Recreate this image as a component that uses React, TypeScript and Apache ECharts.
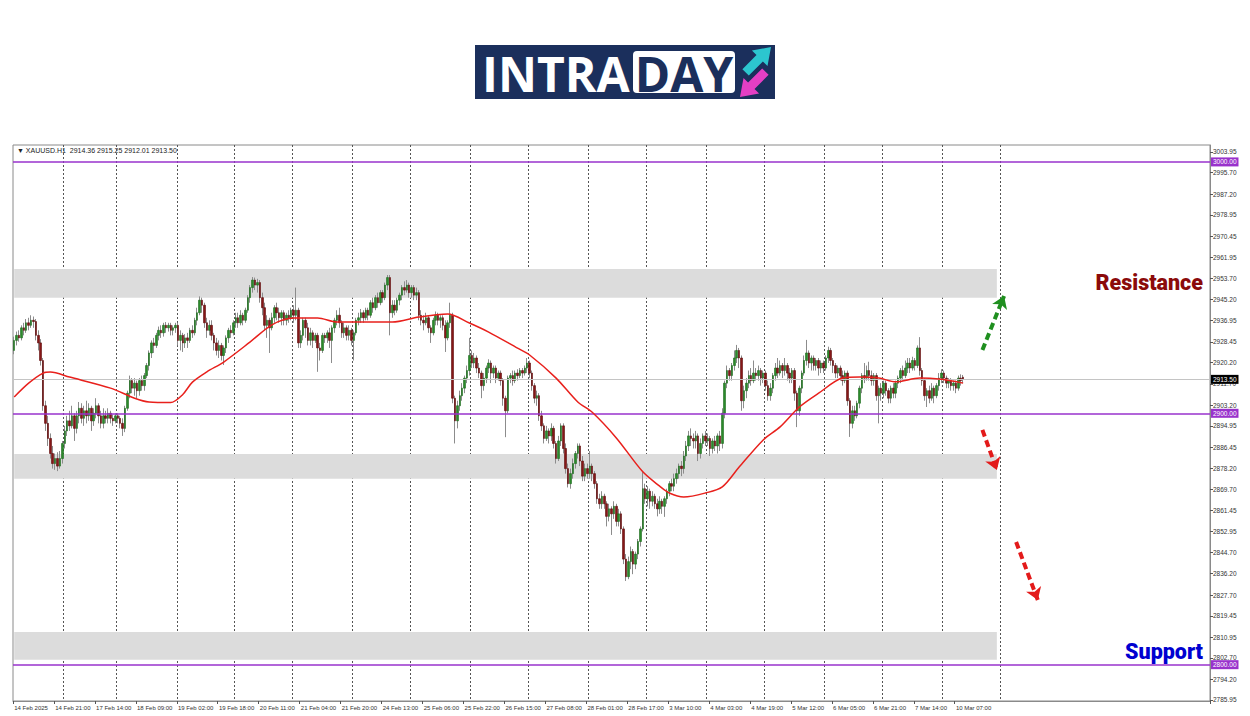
import React, { useEffect, useRef } from "react";
import * as echarts from "echarts";

// [open, close, low, high]
const CANDLES: number[][] = [
  [2925, 2929, 2923.5, 2930.5], [2929, 2931, 2927, 2932.5], [2931, 2930, 2928.5, 2933], [2930, 2934, 2929, 2935],
  [2934, 2933, 2931, 2936], [2933, 2936, 2932, 2937.5], [2936, 2935, 2933, 2938], [2935, 2937, 2934, 2939],
  [2937, 2936.5, 2934, 2938.5], [2936.5, 2931, 2929, 2937.5], [2931, 2928, 2925, 2933], [2928, 2921, 2919, 2929.5],
  [2921, 2903, 2901, 2922], [2903, 2896, 2893, 2905], [2896, 2890, 2887, 2899], [2890, 2884, 2882, 2892],
  [2884, 2880, 2878, 2887], [2880, 2882, 2877.5, 2884], [2882, 2879, 2877, 2884.5], [2879, 2882, 2878, 2885],
  [2882, 2888, 2880, 2889], [2888, 2893, 2886, 2895], [2893, 2897, 2891, 2899], [2897, 2895, 2893, 2901],
  [2895, 2899, 2894, 2903], [2899, 2894, 2889, 2900], [2894, 2899, 2892, 2901], [2899, 2902, 2896, 2904.5],
  [2902, 2898, 2896, 2904], [2898, 2901, 2895, 2903], [2901, 2899, 2896, 2905], [2899, 2902, 2897, 2904],
  [2902, 2897, 2893, 2903], [2897, 2900, 2895, 2902], [2900, 2903, 2898, 2906], [2903, 2899, 2896, 2904],
  [2899, 2896, 2894, 2901], [2896, 2899, 2894, 2902], [2899, 2898, 2896, 2901], [2898, 2900, 2896, 2902],
  [2900, 2898, 2896, 2901], [2898, 2897, 2895, 2899.5], [2897, 2899, 2896, 2900], [2899, 2898, 2896, 2900],
  [2898, 2896, 2894, 2899], [2896, 2894, 2891, 2898], [2894, 2902, 2892.5, 2903], [2902, 2908, 2901, 2909],
  [2908, 2913, 2906, 2915], [2913, 2910, 2908, 2914], [2910, 2912, 2907, 2914], [2912, 2909, 2906, 2913],
  [2909, 2913, 2907, 2914], [2913, 2911, 2909, 2915], [2911, 2915, 2909, 2916], [2915, 2919, 2914, 2920],
  [2919, 2924, 2917, 2925], [2924, 2928, 2922, 2929], [2928, 2927, 2924, 2930], [2927, 2931, 2926, 2932],
  [2931, 2933, 2929, 2934.5], [2933, 2932, 2930, 2935], [2932, 2935, 2930.5, 2936], [2935, 2934, 2932, 2936.3],
  [2934, 2935, 2932.5, 2936], [2935, 2933, 2931, 2936], [2933, 2934, 2931, 2935], [2934, 2935, 2932, 2936],
  [2935, 2929, 2927, 2936], [2929, 2931, 2925, 2933], [2931, 2928, 2924.4, 2932], [2928, 2930, 2926, 2931.5],
  [2930, 2929, 2926, 2932], [2929, 2933, 2928, 2934], [2933, 2932, 2930, 2935], [2932, 2937, 2931, 2938],
  [2937, 2940, 2935, 2942], [2940, 2945, 2939, 2946.5], [2945, 2943, 2940, 2946], [2943, 2936, 2934, 2944],
  [2936, 2933, 2930, 2938], [2933, 2935, 2931, 2937], [2935, 2931, 2929, 2937], [2931, 2928, 2925, 2932],
  [2928, 2925, 2923, 2930], [2925, 2927, 2922, 2929], [2927, 2923, 2921, 2928], [2923, 2926, 2919.2, 2927],
  [2926, 2930, 2924, 2931], [2930, 2933, 2928, 2934], [2933, 2932, 2930, 2935], [2932, 2936, 2931, 2937],
  [2936, 2938, 2934, 2940], [2938, 2936, 2934, 2940], [2936, 2939, 2935, 2941], [2939, 2937, 2935, 2940],
  [2937, 2941, 2936, 2942], [2941, 2946, 2940, 2947], [2946, 2950, 2944, 2951], [2950, 2953, 2948, 2954.2],
  [2953, 2951, 2949, 2954], [2951, 2952, 2948, 2953.5], [2952, 2946, 2944, 2953], [2946, 2942, 2939, 2948],
  [2942, 2935, 2933, 2944], [2935, 2937, 2930, 2939], [2937, 2934, 2924, 2938], [2934, 2938, 2933, 2940],
  [2938, 2942, 2936, 2943], [2942, 2940, 2937, 2944], [2940, 2938, 2936, 2942], [2938, 2940, 2935, 2941],
  [2940, 2937, 2935, 2941], [2937, 2939, 2935, 2940], [2939, 2938, 2936, 2941], [2938, 2941, 2937, 2942],
  [2941, 2939, 2936, 2943], [2939, 2941, 2937, 2950], [2941, 2928, 2926, 2942], [2928, 2931, 2926, 2933],
  [2931, 2937, 2929, 2938], [2937, 2934, 2930, 2938], [2934, 2929, 2927, 2936], [2929, 2932, 2927, 2934],
  [2932, 2929, 2926, 2933], [2929, 2931, 2928, 2932], [2931, 2926, 2916.5, 2932], [2926, 2925, 2921, 2928],
  [2925, 2931, 2924, 2932], [2931, 2930, 2928, 2932], [2930, 2932, 2928, 2933], [2932, 2929, 2926, 2934],
  [2929, 2934, 2920, 2935], [2934, 2937, 2932, 2938], [2937, 2939, 2935, 2941], [2939, 2936, 2934, 2942],
  [2936, 2932, 2930, 2937], [2932, 2934, 2930, 2936], [2934, 2931, 2929, 2935], [2931, 2933, 2929, 2935],
  [2933, 2929, 2927, 2934], [2929, 2932, 2921, 2933], [2932, 2937, 2931, 2938], [2937, 2938, 2935, 2940],
  [2938, 2940, 2936, 2941.5], [2940, 2938, 2936, 2941], [2938, 2941, 2937, 2942], [2941, 2939, 2937, 2942],
  [2939, 2944, 2938, 2945], [2944, 2942, 2940, 2946], [2942, 2946, 2941, 2947], [2946, 2944, 2942, 2948],
  [2944, 2948, 2943, 2949], [2948, 2946, 2944, 2949], [2946, 2951, 2945, 2952], [2951, 2954, 2949, 2955],
  [2954, 2940, 2931, 2955], [2940, 2943, 2938, 2945], [2943, 2941, 2939, 2945], [2941, 2945, 2940, 2946],
  [2945, 2947, 2943, 2948], [2947, 2950, 2945, 2951], [2950, 2949, 2947, 2952.5], [2949, 2951, 2948, 2953],
  [2951, 2948, 2946, 2952], [2948, 2950, 2946, 2951], [2950, 2947, 2945, 2951], [2947, 2948, 2945, 2950],
  [2948, 2939, 2937, 2949], [2939, 2937, 2935, 2941], [2937, 2936, 2933, 2939], [2936, 2938, 2935, 2940],
  [2938, 2934, 2932, 2939], [2934, 2932, 2928, 2935], [2932, 2937, 2931, 2938], [2937, 2939, 2935, 2940.5],
  [2939, 2937, 2935, 2940], [2937, 2938, 2934, 2939], [2938, 2935, 2933, 2939], [2935, 2930, 2924.4, 2937],
  [2930, 2936, 2929, 2937], [2936, 2939, 2934, 2944], [2939, 2906, 2904, 2940], [2906, 2897, 2888, 2907],
  [2897, 2903, 2894, 2905], [2903, 2907, 2901, 2909], [2907, 2910, 2905, 2912], [2910, 2914, 2908, 2915],
  [2914, 2917, 2912, 2919], [2917, 2923, 2915, 2930], [2923, 2920, 2918, 2925], [2920, 2922, 2918, 2924],
  [2922, 2918, 2916, 2923], [2918, 2916, 2914, 2920], [2916, 2911, 2906, 2917], [2911, 2914, 2909, 2916],
  [2914, 2918, 2912, 2919], [2918, 2920, 2916, 2921.5], [2920, 2916, 2912, 2921], [2916, 2918, 2914, 2919],
  [2918, 2914, 2912, 2919], [2914, 2916, 2913, 2917], [2916, 2913, 2911, 2917], [2913, 2906, 2903, 2914],
  [2906, 2901, 2890.5, 2907], [2901, 2914, 2900, 2915], [2914, 2915, 2912, 2916], [2915, 2913, 2911, 2917],
  [2913, 2916, 2912, 2917], [2916, 2915, 2913, 2917.5], [2915, 2917, 2914, 2918], [2917, 2916, 2914, 2918],
  [2916, 2918, 2915, 2919], [2918, 2920, 2916, 2922], [2920, 2916, 2914, 2921], [2916, 2911, 2909, 2917],
  [2911, 2906, 2904, 2912], [2906, 2907, 2903, 2909], [2907, 2899, 2897, 2908], [2899, 2895, 2893, 2901],
  [2895, 2890, 2888, 2896], [2890, 2893, 2889, 2895], [2893, 2891, 2888, 2894], [2891, 2894, 2889, 2896],
  [2894, 2888, 2886, 2895], [2888, 2882, 2880, 2889], [2882, 2889, 2881, 2891], [2889, 2895, 2887, 2896],
  [2895, 2886, 2884, 2896], [2886, 2878, 2876, 2888], [2878, 2872, 2870.5, 2880], [2872, 2876, 2870, 2878],
  [2876, 2880, 2874, 2882], [2880, 2884, 2878, 2885], [2884, 2887, 2882, 2888], [2887, 2881, 2879, 2888],
  [2881, 2875, 2873, 2883], [2875, 2878, 2873, 2880], [2878, 2876, 2874, 2880], [2876, 2879, 2874, 2885],
  [2879, 2876, 2873, 2880], [2876, 2872, 2870, 2877], [2872, 2866, 2864, 2873], [2866, 2864, 2862, 2868],
  [2864, 2867, 2862, 2869], [2867, 2864, 2862, 2868], [2864, 2859, 2855, 2865], [2859, 2862, 2857, 2864],
  [2862, 2860, 2851.6, 2863], [2860, 2863, 2858, 2865], [2863, 2857, 2855, 2864], [2857, 2860, 2855, 2862],
  [2860, 2854, 2852, 2861], [2854, 2842, 2840, 2855], [2842, 2835, 2833.3, 2844], [2835, 2841, 2834, 2843],
  [2841, 2845, 2838, 2847], [2845, 2840, 2836, 2846], [2840, 2844, 2838, 2845], [2844, 2849, 2842, 2850],
  [2849, 2854, 2847, 2855], [2854, 2870, 2853, 2876.6], [2870, 2866, 2864, 2872], [2866, 2869, 2863, 2871],
  [2869, 2865, 2862, 2870], [2865, 2867, 2863, 2869], [2867, 2864, 2862, 2868], [2864, 2862, 2859, 2866],
  [2862, 2865, 2860, 2867], [2865, 2863, 2860, 2866], [2863, 2866, 2858.8, 2867], [2866, 2869, 2864, 2870],
  [2869, 2872, 2867, 2873], [2872, 2871, 2869, 2874], [2871, 2874, 2869, 2876], [2874, 2876, 2872, 2878],
  [2876, 2879, 2874, 2880], [2879, 2878, 2875, 2881], [2878, 2883, 2876, 2885], [2883, 2887, 2881, 2889],
  [2887, 2891, 2885, 2893], [2891, 2890, 2887, 2894], [2890, 2889, 2886, 2892], [2889, 2891, 2886, 2893],
  [2891, 2884, 2881, 2892], [2884, 2888, 2882, 2890], [2888, 2891, 2886, 2892], [2891, 2889, 2887, 2893],
  [2889, 2890, 2887, 2892], [2890, 2886, 2883, 2891], [2886, 2889, 2884, 2890], [2889, 2887, 2885, 2891],
  [2887, 2891, 2884, 2892], [2891, 2888, 2885, 2893], [2888, 2900, 2886, 2902], [2900, 2912, 2898, 2913],
  [2912, 2917, 2910, 2919], [2917, 2915, 2913, 2918], [2915, 2919, 2913, 2920], [2919, 2922, 2917, 2925],
  [2922, 2925, 2920, 2927.2], [2925, 2922, 2918, 2926], [2922, 2905, 2901, 2923], [2905, 2909, 2902, 2911],
  [2909, 2912, 2906, 2914], [2912, 2915, 2910, 2917], [2915, 2913, 2911, 2918], [2913, 2916, 2912, 2921],
  [2916, 2915, 2913, 2918], [2915, 2917, 2913, 2919], [2917, 2914, 2911, 2918], [2914, 2916, 2912, 2917],
  [2916, 2911, 2909, 2917], [2911, 2907, 2905, 2913], [2907, 2910, 2905, 2912], [2910, 2915, 2908, 2916],
  [2915, 2918, 2913, 2920], [2918, 2916, 2914, 2922], [2916, 2919, 2915, 2921], [2919, 2917, 2914, 2920],
  [2917, 2919, 2915, 2922], [2919, 2916, 2913, 2920], [2916, 2914, 2912, 2918], [2914, 2917, 2912, 2918],
  [2917, 2908, 2905, 2918], [2908, 2901, 2894.5, 2909], [2901, 2910, 2899, 2911], [2910, 2916, 2908, 2917],
  [2916, 2921, 2915, 2923], [2921, 2924, 2919, 2929.2], [2924, 2920, 2918, 2925], [2920, 2922, 2917, 2923],
  [2922, 2919, 2917, 2923], [2919, 2921, 2917, 2922], [2921, 2918, 2915, 2922], [2918, 2920, 2916, 2921],
  [2920, 2918, 2916, 2921], [2918, 2922, 2917, 2923], [2922, 2925, 2920, 2926.5], [2925, 2921, 2919, 2926],
  [2921, 2919, 2916, 2922], [2919, 2916, 2914, 2920], [2916, 2918, 2914, 2919], [2918, 2915, 2913, 2919],
  [2915, 2913, 2911, 2917], [2913, 2916, 2912, 2917], [2916, 2905, 2903, 2917], [2905, 2896, 2890.6, 2906],
  [2896, 2901, 2894, 2903], [2901, 2899, 2897, 2903], [2899, 2904, 2898, 2905], [2904, 2910, 2902, 2911],
  [2910, 2915, 2908, 2916], [2915, 2914, 2912, 2920], [2914, 2917, 2913, 2919], [2917, 2915, 2913, 2920.5],
  [2915, 2913, 2911, 2917], [2913, 2915, 2911, 2916], [2915, 2907, 2905, 2916], [2907, 2910, 2896, 2911],
  [2910, 2908, 2905, 2912], [2908, 2912, 2906, 2913], [2912, 2909, 2907, 2913], [2909, 2906, 2904, 2910],
  [2906, 2910, 2904, 2911], [2910, 2908, 2906, 2912], [2908, 2912, 2906, 2913], [2912, 2914, 2910, 2915],
  [2914, 2917, 2912, 2918], [2917, 2915, 2913, 2919], [2915, 2918, 2914, 2921], [2918, 2920, 2916, 2922],
  [2920, 2918, 2916, 2922], [2918, 2921, 2917, 2922.5], [2921, 2919, 2917, 2922], [2919, 2926, 2918, 2927],
  [2926, 2917, 2915, 2930.3], [2917, 2913, 2911, 2918], [2913, 2907, 2905, 2914], [2907, 2909, 2902.5, 2910],
  [2909, 2906, 2904, 2911], [2906, 2910, 2905, 2912], [2910, 2907, 2904, 2911], [2907, 2911, 2906, 2912],
  [2911, 2914, 2909, 2916], [2914, 2916, 2912, 2917.5], [2916, 2914, 2912, 2917], [2914, 2912, 2910, 2915],
  [2912, 2913, 2910, 2914], [2913, 2911, 2909, 2914], [2911, 2912, 2909, 2913], [2912, 2910, 2908, 2913],
  [2910, 2914, 2909, 2915], [2914, 2913, 2911, 2915.5], [2914.36, 2913.5, 2912.01, 2915.25],
];

// moving average, read at sparse bars: [bar index, value]
const MA_POINTS: number[][] = [
  [0, 2906.5], [6, 2912], [12, 2916], [15, 2916.4], [23, 2914.4], [40, 2910], [50, 2906], [56, 2904.5],
  [65, 2904.3], [70, 2907.5], [74, 2912.4], [80, 2916.5], [87, 2920.4], [98, 2928.4], [107, 2935.2],
  [116, 2937.9], [126, 2937.9], [134, 2936.3], [157, 2936.3], [168, 2938.3], [180, 2939.5], [189, 2935.9],
  [197, 2932.3], [209, 2925.9], [214, 2923.2], [225, 2914], [234, 2904.5], [240, 2900.4], [250, 2890.2],
  [261, 2876.7], [268, 2871], [272, 2868.3], [278, 2866.7], [287, 2868.3], [294, 2870.7], [301, 2878.6],
  [311, 2889.4], [318, 2894.6], [326, 2902.5], [334, 2908], [344, 2914], [351, 2914.4], [359, 2914],
  [366, 2912.5], [376, 2914], [384, 2913.6], [394, 2912],
];

const X_LABELS = [
  "14 Feb 2025", "14 Feb 21:00", "17 Feb 14:00", "18 Feb 09:00", "19 Feb 02:00", "19 Feb 18:00",
  "20 Feb 11:00", "21 Feb 04:00", "21 Feb 20:00", "24 Feb 13:00", "25 Feb 06:00", "25 Feb 22:00",
  "26 Feb 15:00", "27 Feb 08:00", "28 Feb 01:00", "28 Feb 17:00", "3 Mar 10:00", "4 Mar 03:00",
  "4 Mar 19:00", "5 Mar 12:00", "6 Mar 05:00", "6 Mar 21:00", "7 Mar 14:00", "10 Mar 07:00",
];
const LABEL_STEP = 17;
const N_CAT = 497;
const GRID_BARS = [21, 43, 68, 92, 116, 141, 165, 190, 214, 239, 263, 288, 312, 337, 361, 386, 410];

const Y_TICKS = [
  3003.95, 2995.7, 2987.2, 2978.95, 2970.45, 2961.95, 2953.7, 2945.2, 2936.95, 2928.45, 2920.2, 2911.7,
  2903.2, 2894.95, 2886.45, 2878.2, 2869.7, 2861.45, 2852.95, 2844.7, 2836.2, 2827.7, 2819.45, 2810.95,
  2802.7, 2794.2, 2785.95,
];
const Y_MIN = 2785.55;
const Y_MAX = 3006.73;

const LEVELS = [3000, 2900, 2800];
const LAST_PRICE = 2913.5;
const ZONES = [
  [2946, 2957.4],
  [2874, 2883.8],
  [2802, 2813],
];
const ZONE_END_BAR = 408;

const ARROWS = [
  { from: [402, 2925.2], to: [411, 2946.7], color: "#1f8f1f" },
  { from: [402, 2893.4], to: [408, 2877.4], color: "#e31a1a" },
  { from: [416, 2848.8], to: [425, 2825.7], color: "#e31a1a" },
];

const HEADER = "▼ XAUUSD.H1  2914.36 2915.25 2912.01 2913.50";

export default function App() {
  const ref = useRef<HTMLDivElement>(null);

  useEffect(() => {
    const chart = echarts.init(ref.current!, null, { renderer: "svg" });
    const cats = Array.from({ length: N_CAT }, (_, i) => String(i));
    const bodyData = CANDLES.map(([o, c]) => [o, c, Math.min(o, c), Math.max(o, c)]);
    const isLabel = (i: number) => i % LABEL_STEP === 0 && i / LABEL_STEP < X_LABELS.length;
    const font = "Liberation Sans";

    const navy = "#1b2f5c";
    const option: any = {
      animation: false,
      backgroundColor: "#ffffff",
      grid: {
        left: 13, right: 40, top: 145, bottom: 15,
        show: true, borderColor: "#8a8a8a", borderWidth: 1,
      },
      xAxis: {
        type: "category",
        data: cats,
        boundaryGap: true,
        axisLine: { lineStyle: { color: "#8a8a8a" } },
        axisTick: { show: true, interval: (i: number) => isLabel(i), length: 3, lineStyle: { color: "#555" } },
        axisLabel: {
          interval: (i: number) => isLabel(i),
          formatter: (_v: string, i: number) => X_LABELS[i / LABEL_STEP] ?? "",
          align: "left",
          fontSize: 6,
          fontFamily: font,
          color: "#333",
          margin: 4,
        },
        splitLine: {
          show: true,
          interval: (i: number) => GRID_BARS.includes(i),
          lineStyle: { color: "#555", type: [2, 2], width: 1 },
        },
      },
      yAxis: {
        type: "value",
        position: "right",
        min: Y_MIN,
        max: Y_MAX,
        axisLine: { show: true, lineStyle: { color: "#8a8a8a" } },
        axisTick: { show: true, customValues: Y_TICKS, length: 3, lineStyle: { color: "#555" } },
        axisLabel: {
          customValues: Y_TICKS,
          formatter: (v: number) => v.toFixed(2),
          fontSize: 6.5,
          fontFamily: font,
          color: "#333",
          margin: 3,
        },
        splitLine: { show: false },
      },
      series: [
        {
          type: "line",
          data: [],
          z: 1,
          silent: true,
          markArea: {
            silent: true,
            itemStyle: { color: "#dcdcdc" },
            data: ZONES.map(([lo, hi]) => [
              { xAxis: 0, yAxis: hi },
              { xAxis: ZONE_END_BAR, yAxis: lo },
            ]),
          },
        },
        {
          type: "line",
          data: [],
          z: 2,
          silent: true,
          markLine: {
            silent: true,
            symbol: ["none", "none"],
            animation: false,
            data: [
              {
                yAxis: LAST_PRICE,
                lineStyle: { color: "#c4c4c4", width: 1, type: "solid" },
                label: {
                  show: true, position: "end", distance: 1, formatter: LAST_PRICE.toFixed(2),
                  backgroundColor: "#000", color: "#fff", fontSize: 6.5, fontFamily: font, padding: [1, 2],
                },
              },
              ...LEVELS.map((lv) => ({
                yAxis: lv,
                lineStyle: { color: "#9932cc", width: 1.5, type: "solid" },
                label: {
                  show: true, position: "end", distance: 1, formatter: lv.toFixed(2),
                  backgroundColor: "#9932cc", color: "#fff", fontSize: 6.5, fontFamily: font, padding: [1, 2],
                },
              })),
            ],
          },
        },
        {
          type: "candlestick",
          data: CANDLES,
          barWidth: 1,
          z: 3,
          silent: true,
          itemStyle: {
            color: "#8c8c8c", color0: "#8c8c8c", borderColor: "#8c8c8c", borderColor0: "#8c8c8c", borderWidth: 1,
          },
        },
        {
          type: "candlestick",
          data: bodyData,
          barWidth: 2,
          z: 4,
          silent: true,
          itemStyle: {
            color: "#2b8a2b", color0: "#861717", borderColor: "#1d6a1d", borderColor0: "#5c0a0a", borderWidth: 0.6,
          },
        },
        {
          type: "line",
          data: MA_POINTS,
          smooth: 0.3,
          showSymbol: false,
          silent: true,
          z: 5,
          lineStyle: { color: "#e8201c", width: 1.5 },
        },
        {
          type: "line",
          data: [],
          z: 6,
          silent: true,
          markLine: {
            silent: true,
            symbol: ["none", "arrow"],
            symbolSize: 12,
            label: { show: false },
            data: ARROWS.map((a) => [
              { coord: a.from, lineStyle: { color: a.color, width: 4, type: [7, 4] }, itemStyle: { color: a.color } },
              { coord: a.to, itemStyle: { color: a.color } },
            ]),
          },
        },
      ],
      graphic: [
        {
          type: "text",
          x: 17, y: 150,
          style: {
            text: HEADER, fill: "#222", font: `7px "${font}"`,
            verticalAlign: "middle", textVerticalAlign: "middle",
          },
        },
        {
          type: "text",
          x: 1203, y: 282,
          style: {
            text: "Resistance", fill: "#8b0a0a", font: '900 21.5px "Roboto"',
            align: "right", textAlign: "right", verticalAlign: "middle", textVerticalAlign: "middle",
          },
        },
        {
          type: "text",
          x: 1203, y: 651,
          style: {
            text: "Support", fill: "#0000d0", font: '900 21.5px "Roboto"',
            align: "right", textAlign: "right", verticalAlign: "middle", textVerticalAlign: "middle",
          },
        },
        {
          type: "group",
          children: [
            { type: "rect", shape: { x: 475, y: 45, width: 300, height: 54 }, style: { fill: navy } },
            { type: "rect", shape: { x: 633, y: 51, width: 102, height: 42, r: 4 }, style: { fill: "#ffffff" } },
            {
              type: "text", x: 482, y: 73,
              style: {
                text: "INTRA", fill: "#ffffff", font: 'bold 48px "Open Sans"',
                verticalAlign: "middle", textVerticalAlign: "middle",
              },
            },
            {
              type: "text", x: 684, y: 73,
              style: {
                text: "DAY", fill: navy, font: 'bold 48px "Open Sans"',
                align: "center", textAlign: "center", verticalAlign: "middle", textVerticalAlign: "middle",
              },
            },
            {
              type: "polygon",
              shape: { points: [[771, 47], [767.5, 66.1], [762.9, 61.5], [748.8, 75.6], [742.4, 69.2], [756.5, 55.1], [751.9, 50.5]] },
              style: { fill: "#2cc6cf" },
            },
            {
              type: "polygon",
              shape: { points: [[740, 97], [743.5, 77.9], [748.1, 82.5], [762.2, 68.4], [768.6, 74.8], [754.5, 88.9], [759.1, 93.5]] },
              style: { fill: "#e43fc4" },
            },
          ],
        },
      ],
    };

    chart.setOption(option);
    return () => chart.dispose();
  }, []);

  return (
    <div
      ref={ref}
      style={{ position: "absolute", left: 0, top: 0, width: 1250, height: 716, background: "#fff" }}
    />
  );
}
